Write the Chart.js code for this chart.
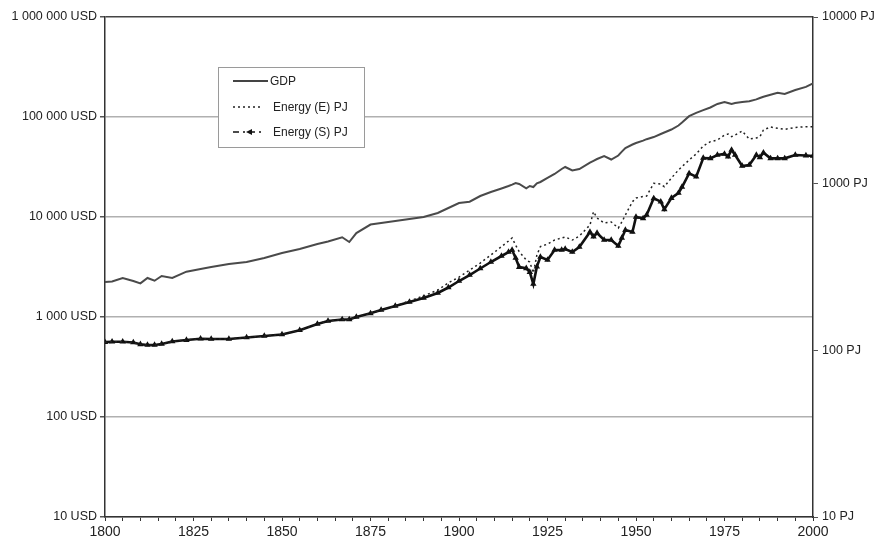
<!DOCTYPE html>
<html lang="en">
<head>
    <meta charset="UTF-8">
    <meta name="viewport" content="width=device-width, initial-scale=1.0">
    <script src="https://cdn.jsdelivr.net/npm/chart.js"></script>
    <title>GDP and energy 1800-2000</title>
    <style>
        body{ margin: 0; background: #fff; }
        .container{
            width: 877px; height: 542px;
        }
    </style>
</head>
<body>
    <div class="container">
        <canvas id="myChart"></canvas>
    </div>
<script>
// values
const years = [1800,1802,1805,1808,1810,1812,1814,1816,1819,1823,1827,1830,1835,1840,1845,1850,1855,1860,1863,1867,
               1869,1871,1875,1878,1882,1886,1890,1894,1897,1900,1903,1906,1909,1912,1914,1915,1916,1917,1919,1920,
               1921,1922,1923,1925,1927,1929,1930,1932,1934,1937,1938,1939,1941,1943,1945,1946,1947,1949,1950,1952,
               1953,1955,1957,1958,1960,1962,1963,1965,1967,1969,1971,1973,1975,1976,1977,1978,1980,1982,1984,1985,
               1986,1988,1990,1992,1995,1998,2000];

const gdp = [2240,2265,2455,2290,2170,2455,2305,2570,2455,2840,3020,3160,3390,3550,3890,4365,4790,5370,5690,6270,
             5620,6900,8400,8710,9120,9550,10000,10960,12300,13800,14220,16220,17780,19280,20420,21100,21880,21380,19360,20420,
             19950,21730,22390,24550,26920,30200,31620,29170,30200,34910,36500,38020,40740,37580,41210,45000,48980,53090,55000,58000,
             60000,63000,67610,70000,74990,82220,88000,102000,110000,117000,124450,135000,141000,138040,134900,138000,141500,143500,150000,155000,
             159590,167000,174980,169820,186000,200000,217270];

const energyE = [112,112.7,112.7,111.4,108.7,107.7,107.7,109.2,113,115.3,117.4,117,117,119.4,121.9,124.5,132,144,150,153.2,
                 153.2,158.5,166.7,174.6,184.5,198,212,230,254,275,303,334,373,419,453,472,428,391,348,339,
                 291,373,419,434,459,472,479,459,485,565,679,622,581,589,542,589,649,780,820,837,
                 843,1005,995,959,1081,1208,1265,1387,1507,1683,1786,1828,1959,1986,1914,1960,2070,1854,1879,1914,
                 2099,2188,2148,2118,2173,2198,2198];

const energyS = [112,112.7,112.7,111.4,108.7,107.7,107.7,109.2,113,115.3,117.4,117,117,119.4,121.9,124.5,132,144,150,153.2,
                 153.2,158.5,166.7,174.6,184.5,195,206,220.8,238.2,260.6,283.1,309.7,338.8,368.1,389,400,358,316,310.5,295,
                 250,317.7,363,348.3,400,400,405.5,389,417,512.9,480.8,505.8,459.2,459.2,422.7,472,527,513,631,619.4,
                 648.6,816.6,779.8,701.5,820,879,955,1153,1101,1426,1419,1486,1507,1452,1592,1486,1276,1294,1486,1439,
                 1535,1419,1419,1419,1486,1475,1466];

const usdTicks = [10, 100, 1000, 10000, 100000, 1000000];
const pjTicks = [10, 100, 1000, 10000];
const seriesNames = ['GDP', 'Energy (E) PJ', 'Energy (S) PJ'];

function pts(arr){
    return years.map(function(yr, i){ return {x: yr, y: arr[i]}; });
}
function spaced(v){
    return String(v).replace(/\B(?=(\d{3})+(?!\d))/g, ' ');
}

Chart.defaults.font.family = '"Liberation Sans", Arial, sans-serif';
Chart.defaults.color = '#222';

// legend box drawn inside the plot, like the original
const boxLegend = {
    id: 'boxLegend',
    afterDraw(chart){
        const c = chart.ctx;
        c.save();
        c.fillStyle = '#fff';
        c.strokeStyle = '#9a9a9a';
        c.lineWidth = 1;
        c.fillRect(218.5, 67.5, 146, 80);
        c.strokeRect(218.5, 67.5, 146, 80);

        // GDP
        c.strokeStyle = '#444'; c.lineWidth = 2;
        c.beginPath(); c.moveTo(233, 81); c.lineTo(268, 81); c.stroke();
        // Energy (E)
        c.strokeStyle = '#222'; c.lineWidth = 1.5; c.setLineDash([2, 3]);
        c.beginPath(); c.moveTo(233, 107); c.lineTo(263, 107); c.stroke();
        // Energy (S)
        c.setLineDash([6, 4, 2, 4]);
        c.strokeStyle = '#111';
        c.beginPath(); c.moveTo(233, 132); c.lineTo(264, 132); c.stroke();
        c.setLineDash([]);
        c.fillStyle = '#111';
        c.beginPath(); c.moveTo(246, 132); c.lineTo(252, 129); c.lineTo(252, 135); c.closePath(); c.fill();

        c.fillStyle = '#222';
        c.font = '12px "Liberation Sans", Arial, sans-serif';
        c.textBaseline = 'middle';
        c.fillText(seriesNames[0], 270, 82);
        c.fillText(seriesNames[1], 273, 108);
        c.fillText(seriesNames[2], 273, 133);
        c.restore();
    }
};

const ctx = document.getElementById('myChart');
let config = {
    type: 'line',
    data: {
        datasets: [{
            label: seriesNames[0],
            data: pts(gdp),
            yAxisID: 'y',
            borderColor: '#4a4a4a',
            borderWidth: 2,
            pointRadius: 0,
            tension: 0
        }, {
            label: seriesNames[1],
            data: pts(energyE),
            yAxisID: 'yR',
            borderColor: '#222',
            borderWidth: 1.5,
            borderDash: [2, 3],
            pointRadius: 0,
            tension: 0
        }, {
            label: seriesNames[2],
            data: pts(energyS),
            yAxisID: 'yR',
            borderColor: '#111',
            backgroundColor: '#111',
            borderWidth: 2.6,
            pointStyle: 'triangle',
            pointRadius: 1.1,
            tension: 0
        }]
    },
    options: {
        responsive: true,
        maintainAspectRatio: false,
        animation: false,
        layout: { padding: { top: 17, left: 0, right: 0, bottom: 0 } },
        plugins: {
            legend: { display: false },
            tooltip: { enabled: false }
        },
        scales: {
            x: {
                type: 'linear',
                min: 1800,
                max: 2000,
                afterFit: function(s){ s.height = 25; },
                border: { color: '#333', width: 1.5 },
                grid: { drawOnChartArea: false, tickLength: 4, tickColor: '#333' },
                ticks: {
                    stepSize: 5,
                    autoSkip: false,
                    maxRotation: 0,
                    padding: 3,
                    font: { size: 14 },
                    callback: function(v){ return v % 25 === 0 ? String(v) : ''; }
                }
            },
            y: {
                type: 'logarithmic',
                position: 'left',
                min: 10,
                max: 1000000,
                afterBuildTicks: function(s){ s.ticks = usdTicks.map(function(v){ return {value: v}; }); },
                afterFit: function(s){ s.width = 105; },
                border: { color: '#333', width: 1.5 },
                grid: {
                    color: function(c){ return c.tick && c.tick.value === 1000000 ? '#444' : '#b0b0b0'; },
                    lineWidth: 1.5,
                    tickLength: 5,
                    tickColor: '#555'
                },
                ticks: {
                    padding: 3,
                    font: { size: 12.5 },
                    callback: function(v){ return spaced(v) + ' USD'; }
                }
            },
            yR: {
                type: 'logarithmic',
                position: 'right',
                min: 10,
                max: 10000,
                afterBuildTicks: function(s){ s.ticks = pjTicks.map(function(v){ return {value: v}; }); },
                afterFit: function(s){ s.width = 64; },
                border: { color: '#333', width: 1.5 },
                grid: { drawOnChartArea: false, tickLength: 5, tickColor: '#555' },
                ticks: {
                    padding: 4,
                    font: { size: 12.5 },
                    callback: function(v){ return v + ' PJ'; }
                }
            }
        }
    },
    plugins: [boxLegend]
};
let myChart = new Chart(ctx, config);
</script>
</body>
</html>
